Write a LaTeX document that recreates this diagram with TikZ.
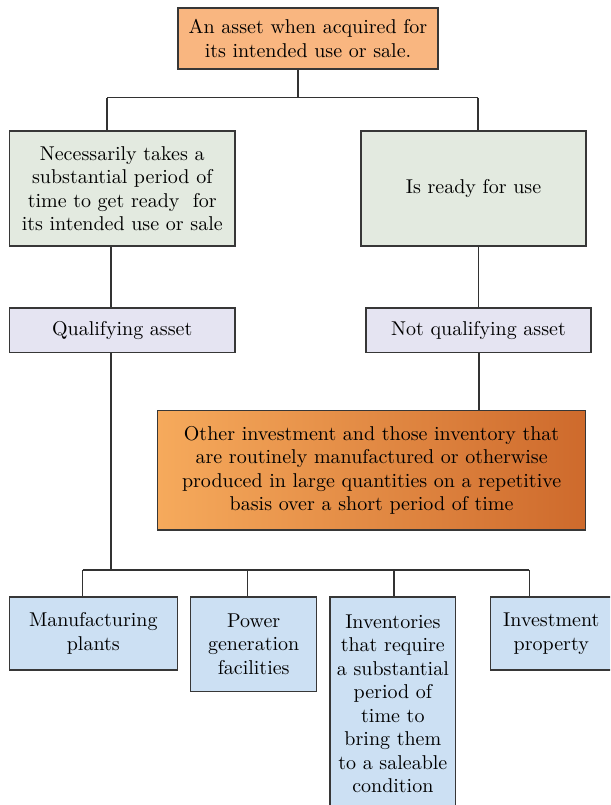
\documentclass[tikz,border=0pt]{standalone}
\usepackage{fontspec}
\setmainfont{lmroman10-regular.otf}
\definecolor{topor}{RGB}{249,182,128}
\definecolor{grn}{RGB}{227,234,224}
\definecolor{lav}{RGB}{229,228,242}
\definecolor{blu}{RGB}{204,224,243}
\definecolor{gradL}{RGB}{246,170,92}
\definecolor{gradR}{RGB}{206,106,44}
\definecolor{edge}{RGB}{55,55,55}
\definecolor{conn}{RGB}{50,50,50}
\begin{document}
\begin{tikzpicture}[x=1pt,y=-1pt,
  box/.style={draw=edge,line width=1.3pt,rectangle,inner sep=0pt,align=center,
    font=\fontsize{20}{23.5}\selectfont},
  link/.style={draw=conn,line width=1.5pt}]
\useasboundingbox (0,0) rectangle (610,805);
\clip (0,0) rectangle (610,805);
\node[box,fill=topor,minimum width=260pt,minimum height=61pt] (top) at (308,38.6)
  {An asset when acquired for\\its intended use or sale.};
\node[box,fill=grn,minimum width=225.5pt,minimum height=115pt] (L1) at (122.25,188.5)
  {Necessarily takes a\\substantial period of\\time to get ready \ for\\its intended use or sale};
\node[box,fill=grn,minimum width=225pt,minimum height=115pt] (R1) at (473.5,188.5)
  {Is ready for use};
\node[box,fill=lav,minimum width=225.5pt,minimum height=44.5pt] (Q) at (122.25,330.25)
  {Qualifying asset};
\node[box,fill=lav,minimum width=225pt,minimum height=44.5pt] (NQ) at (478.5,330.25)
  {Not qualifying asset};
\node[box,left color=gradL,right color=gradR,minimum width=428pt,minimum height=119.3pt] (O) at (371.6,470.35)
  {Other investment and those inventory that\\are routinely manufactured or otherwise\\produced in large quantities on a repetitive\\basis over a short period of time};
\node[box,fill=blu,minimum width=168pt,minimum height=73pt] (M) at (93.3,633.5)
  {Manufacturing\\plants};
\node[box,fill=blu,minimum width=126pt,minimum height=94.3pt] (P) at (253.7,644.15)
  {Power\\generation\\facilities};
\node[box,fill=blu,minimum width=125.7pt,minimum height=214pt] (I) at (392.85,704)
  {Inventories\\that require\\a substantial\\period of\\time to\\bring them\\to a saleable\\condition};
\node[box,fill=blu,minimum width=122pt,minimum height=73pt] (V) at (551.3,633.5)
  {Investment\\property};
% top bus
\coordinate (j0) at ([xshift=-10pt]top.south);
\coordinate (j1) at (j0 |- 0,97.7);
\coordinate (a1) at (107,97.7);
\coordinate (a2) at (478,97.7);
\draw[link] (j0) -- (j1);
\draw[link] (a1) -- (a2);
\draw[link] (a1) -- (a1 |- L1.north);
\draw[link] (a2) -- (a2 |- R1.north);
% to qualifying
\draw[link] ([xshift=-11.25pt]L1.south) -- ([xshift=-11.25pt]Q.north);
\draw[link] (NQ.north) -- (NQ.north |- R1.south);
\draw[link] ([xshift=0.5pt]NQ.south) -- ([xshift=0.5pt]NQ.south |- O.north);
% bottom bus
\coordinate (c) at ([xshift=-11.25pt]Q.south |- 0,570);
\coordinate (d1) at (82.7,570);
\coordinate (d2) at (247.3,570);
\coordinate (d3) at (394,570);
\coordinate (d4) at (529.3,570);
\draw[link] ([xshift=-11.25pt]Q.south) -- (c);
\draw[link] (d1) -- (d4);
\draw[link] (d1) -- (d1 |- M.north);
\draw[link] (d2) -- (d2 |- P.north);
\draw[link] (d3) -- (d3 |- I.north);
\draw[link] (d4) -- (d4 |- V.north);
\end{tikzpicture}
\end{document}
